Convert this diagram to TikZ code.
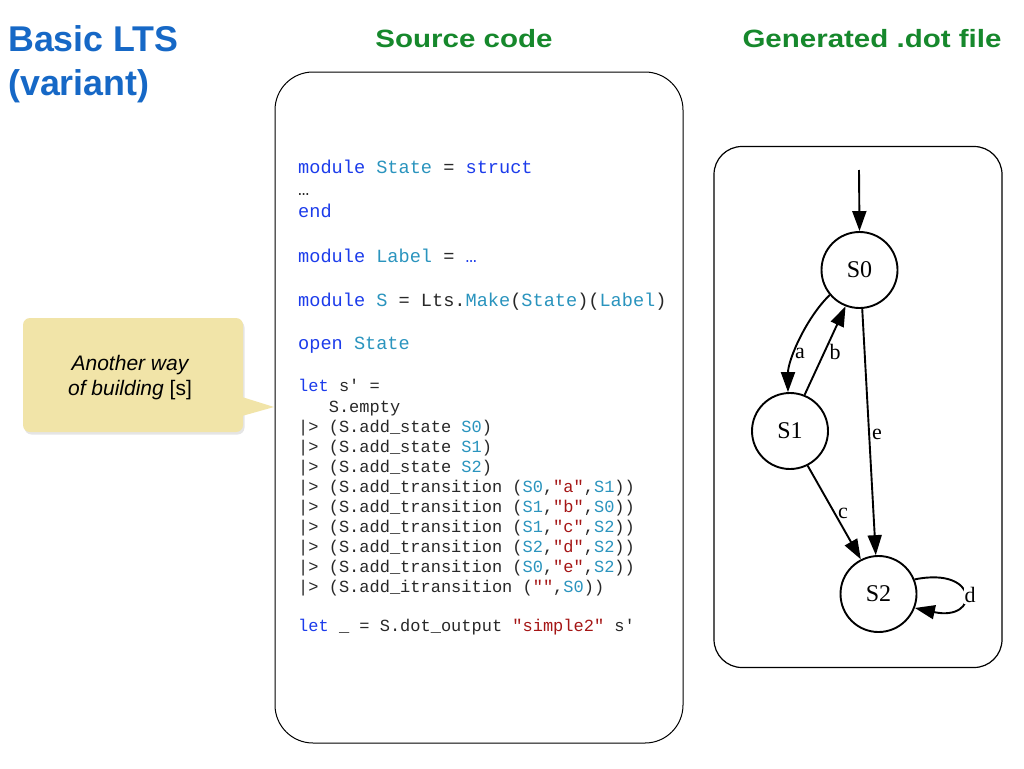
\documentclass[tikz,border=0pt]{standalone}
\usepackage{fontspec}
\setmainfont{Liberation Serif}
\setsansfont{Liberation Sans}
\setmonofont{Liberation Mono}
\newfontfamily\headfont[FakeStretch=1.18]{Liberation Sans}
\usetikzlibrary{arrows.meta}

\definecolor{titleblue}{RGB}{22,104,198}
\definecolor{headgreen}{RGB}{22,136,44}
\definecolor{kwblue}{RGB}{28,60,235}
\definecolor{modteal}{RGB}{42,148,190}
\definecolor{strred}{RGB}{165,22,22}
\definecolor{codegray}{RGB}{40,40,40}
\definecolor{noteyellow}{RGB}{241,228,168}

% syntax colouring for the OCaml listing
\newcommand\codekw[1]{\textcolor{kwblue}{#1}}
\newcommand\codemod[1]{\textcolor{modteal}{#1}}
\newcommand\codestr[1]{\textcolor{strred}{#1}}

\tikzset{
  heading/.style={font=\headfont\bfseries\fontsize{25}{30}\selectfont, text=headgreen, anchor=base, inner sep=0},
  titletext/.style={font=\sffamily\bfseries\fontsize{35.8}{42}\selectfont, text=titleblue, anchor=base west, inner sep=0},
  codebig/.style={font=\ttfamily\fontsize{18.6}{22}\selectfont, text=codegray, anchor=base west, inner sep=0},
  codesmall/.style={font=\ttfamily\fontsize{17}{20}\selectfont, text=codegray, anchor=base west, inner sep=0},
  panel/.style={draw=black, rounded corners=#1, inner sep=0},
  state/.style={circle, draw, line width=1.9pt, minimum size=76pt, inner sep=0,
    font=\rmfamily\fontsize{24}{28}\selectfont},
  trans/.style={line width=1.9pt, -{Triangle[length=20pt,width=14pt]}},
  elabel/.style={font=\rmfamily\fontsize{22}{26}\selectfont, inner sep=0},
  notetext/.style={font=\sffamily\fontsize{21}{25}\selectfont, anchor=base, inner sep=0},
}

\begin{document}
\begin{tikzpicture}[x=1pt,y=-1pt]
\useasboundingbox (0,0) rectangle (1024,768);
\fill[white] (0,0) rectangle (1024,768);

% titles
\node[titletext] (title1) at (8,52) {Basic LTS};
\node[titletext] (title2) at (8,95) {(variant)};
\node[heading] (srchead) at (464,48) {Source code};
\node[heading] (dothead) at (872,48) {Generated .dot file};

% panels
\node[panel=38pt, line width=1pt, minimum width=408pt, minimum height=671pt] (codebox) at (479,407.5) {};
\node[panel=28pt, line width=1.2pt, minimum width=288pt, minimum height=521pt] (dotbox) at (858,407) {};

% source listing
\node[codebig] (l1) at (298,173) {\codekw{module} \codemod{State} = \codekw{struct}};
\node[codebig] (l2) at (298,195) {…};
\node[codebig] (l3) at (298,217) {\codekw{end}};
\node[codebig] (l4) at (298,262) {\codekw{module} \codemod{Label} = \codekw{…}};
\node[codebig] (l5) at (298,306) {\codekw{module} \codemod{S} = Lts.\codemod{Make}(\codemod{State})(\codemod{Label})};
\node[codebig] (l6) at (298,349) {\codekw{open} \codemod{State}};
\node[codesmall] (l7) at (298,391) {\codekw{let} s' =};
\node[codesmall] (l8) at (298,412) {\ \ \ S.empty};
\node[codesmall] (l9) at (298,432) {|> (S.add\_state \codemod{S0})};
\node[codesmall] (l10) at (298,452) {|> (S.add\_state \codemod{S1})};
\node[codesmall] (l11) at (298,472) {|> (S.add\_state \codemod{S2})};
\node[codesmall] (l12) at (298,492) {|> (S.add\_transition (\codemod{S0},\codestr{"a"},\codemod{S1}))};
\node[codesmall] (l13) at (298,512) {|> (S.add\_transition (\codemod{S1},\codestr{"b"},\codemod{S0}))};
\node[codesmall] (l14) at (298,532) {|> (S.add\_transition (\codemod{S1},\codestr{"c"},\codemod{S2}))};
\node[codesmall] (l15) at (298,552) {|> (S.add\_transition (\codemod{S2},\codestr{"d"},\codemod{S2}))};
\node[codesmall] (l16) at (298,572) {|> (S.add\_transition (\codemod{S0},\codestr{"e"},\codemod{S2}))};
\node[codesmall] (l17) at (298,592) {|> (S.add\_itransition (\codestr{""},\codemod{S0}))};
\node[codesmall] (l18) at (298,631) {\codekw{let} \_ = S.dot\_output \codestr{"simple2"} s'};

% callout note with a soft shadow
\fill[black, opacity=0.10, rounded corners=7pt] (24.5,320.5) rectangle (244.5,434.5);
\fill[noteyellow, rounded corners=7pt] (23,318) rectangle (243,432);
\fill[noteyellow] (242,397) -- (274,407) -- (242,416) -- cycle;
\node[notetext] (note1) at (130,370) {\itshape Another way};
\node[notetext] (note2) at (130,395) {\itshape of building \upshape [s]};

% generated automaton
\node[state] (S0) at (859.5,270) {S0};
\node[state] (S1) at (790,431) {S1};
\node[state] (S2) at (878.5,594) {S2};
\coordinate (init) at (859,170);

\draw[trans] (init) -- (S0.north);
\draw[trans] (S0.220) .. controls (806,318) and (788,360) .. (S1.93);
\draw[trans] (S1.68) -- (S0.249);
\draw[trans] (S0.274) -- (S2.94);
\draw[trans] (S1.297) -- (S2.117);
\draw[trans] (S2.22) .. controls (980,566) and (980,622) .. (S2.-21);

\node[elabel] (la) at (800,353) {a};
\node[elabel] (lb) at (835,352) {b};
\node[elabel] (le) at (877,434) {e};
\node[elabel] (lc) at (843,513) {c};
\node[elabel, fill=white, inner sep=1pt] (ld) at (970,595) {d};
\end{tikzpicture}
\end{document}
